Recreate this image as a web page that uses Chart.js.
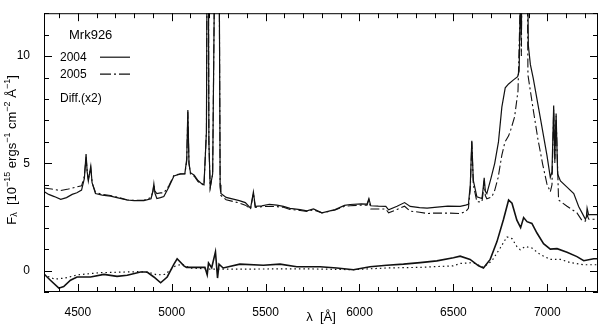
<!DOCTYPE html>
<html lang="en">
<head>
<meta charset="UTF-8">
<title>Mrk926</title>
<style>
  html, body { margin: 0; padding: 0; background: #fff; }
  canvas { display: block; }
</style>
</head>
<body>
<canvas id="spec" width="600" height="325"></canvas>
<script src="https://cdn.jsdelivr.net/npm/chart.js"></script>
<script>
// wavelength (A) and flux (1e-15)
const wave2004 = [4320, 4345, 4375, 4409, 4440, 4470, 4495, 4520, 4535, 4544, 4550, 4556, 4562, 4569, 4576, 4594,
  4630, 4674, 4720, 4761, 4800, 4852, 4890, 4900, 4905, 4911, 4921, 4940, 4958, 4985, 5012, 5047, 5070, 5080,
  5086, 5092, 5100, 5120, 5140, 5155, 5172, 5185, 5192, 5198, 5205, 5218, 5235, 5242, 5250, 5258, 5262, 5290,
  5360, 5392, 5420, 5435, 5445, 5480, 5520, 5560, 5595, 5630, 5684, 5720, 5755, 5800, 5870, 5920, 5950, 6010,
  6040, 6050, 6060, 6100, 6140, 6155, 6200, 6240, 6270, 6320, 6360, 6400, 6470, 6536, 6565, 6580, 6590, 6598,
  6606, 6625, 6652, 6658, 6664, 6670, 6678, 6700, 6720, 6740, 6758, 6776, 6794, 6820, 6842, 6850, 6856, 6862,
  6868, 6874, 6880, 6886, 6892, 6899, 6910, 6925, 6962, 6998, 7016, 7025, 7034, 7040, 7047, 7055, 7070, 7105,
  7141, 7167, 7185, 7203, 7208, 7212, 7220, 7229, 7265];
const flux2004 = [3.68, 3.55, 3.45, 3.32, 3.40, 3.55, 3.63, 3.75, 4.3, 5.43, 4.6, 4.18, 4.5, 4.86, 4.1, 3.59,
  3.52, 3.47, 3.38, 3.29, 3.26, 3.26, 3.35, 3.7, 4.04, 3.6, 3.36, 3.40, 3.45, 3.9, 4.41, 4.51, 4.52, 5.2,
  7.49, 5.0, 4.56, 4.45, 4.2, 4.08, 4.0, 6.5, 25, 6.0, 3.89, 4.5, 20, 40, 20, 4.0, 3.59, 3.41,
  3.26, 3.17, 2.91, 3.66, 2.99, 3.02, 3.09, 3.05, 2.99, 2.90, 2.84, 2.78, 2.87, 2.69, 2.84, 3.04, 3.08, 3.11,
  3.10, 3.36, 3.02, 3.0, 2.99, 2.83, 3.0, 3.17, 2.99, 2.93, 2.91, 2.95, 3.0, 2.99, 3.05, 3.09, 4.0, 6.05,
  4.2, 3.44, 3.36, 3.8, 4.33, 3.7, 3.59, 4.3, 5.0, 6.0, 7.62, 8.52, 8.70, 8.89, 9.04, 9.3, 12.5, 11,
  18, 13, 20, 14, 17, 10.5, 9.6, 8.97, 7.17, 5.38, 4.35, 4.6, 7.7, 5.2, 7.32, 4.5, 4.18, 3.89,
  3.59, 2.99, 2.69, 2.39, 2.5, 2.91, 2.6, 2.61, 2.61];

const wave2005 = [4320, 4360, 4409, 4450, 4495, 4520, 4535, 4544, 4550, 4556, 4562, 4569, 4576, 4594, 4630, 4674,
  4720, 4761, 4800, 4852, 4890, 4900, 4905, 4911, 4921, 4940, 4958, 4985, 5012, 5047, 5070, 5080, 5086, 5092,
  5100, 5120, 5140, 5155, 5172, 5185, 5192, 5198, 5205, 5218, 5235, 5242, 5250, 5258, 5262, 5290, 5360, 5392,
  5420, 5435, 5445, 5480, 5520, 5560, 5595, 5630, 5684, 5720, 5755, 5800, 5870, 5920, 5950, 6010, 6040, 6050,
  6060, 6100, 6140, 6155, 6200, 6240, 6270, 6320, 6360, 6400, 6470, 6536, 6565, 6580, 6590, 6598, 6606, 6625,
  6652, 6658, 6664, 6670, 6678, 6705, 6720, 6738, 6758, 6774, 6794, 6806, 6826, 6844, 6856, 6862, 6868, 6874,
  6880, 6886, 6892, 6897, 6923, 6950, 6976, 6998, 7016, 7025, 7034, 7040, 7047, 7060, 7105, 7158, 7185, 7203,
  7208, 7212, 7220, 7229, 7265];
const flux2005 = [3.85, 3.80, 3.73, 3.80, 3.90, 3.95, 4.4, 5.3, 4.6, 4.25, 4.5, 4.8, 4.1, 3.65, 3.55, 3.50,
  3.40, 3.30, 3.27, 3.28, 3.40, 3.7, 4.0, 3.7, 3.59, 3.62, 3.62, 3.95, 4.45, 4.5, 4.5, 5.1, 7.4, 5.0,
  4.5, 4.4, 4.15, 4.05, 3.98, 6.5, 25, 6.0, 3.85, 4.5, 20, 40, 20, 3.9, 3.5, 3.3, 3.15, 3.05,
  2.88, 3.6, 2.95, 2.98, 3.0, 2.98, 2.95, 2.85, 2.80, 2.76, 2.83, 2.69, 2.82, 3.0, 3.02, 3.05, 3.05, 3.3,
  2.87, 2.87, 2.87, 2.69, 2.85, 3.0, 2.77, 2.72, 2.66, 2.68, 2.68, 2.66, 2.75, 2.9, 3.8, 6.0, 4.0, 3.21,
  3.20, 3.6, 4.2, 3.5, 3.35, 3.44, 3.74, 4.33, 5.38, 5.98, 6.28, 6.58, 7.17, 8.37, 12.5, 10, 18, 13,
  20, 13, 16, 9.12, 7.62, 6.13, 4.93, 4.04, 3.67, 4.0, 7.5, 5.0, 7.2, 3.29, 3.0, 2.69, 2.33, 2.30,
  2.40, 2.62, 2.40, 2.39, 2.39];

const waveDiff = [4319, 4354, 4399, 4425, 4461, 4496, 4568, 4639, 4709, 4763, 4834, 4869, 4905, 4941, 4976, 5012,
  5029, 5065, 5079, 5150, 5177, 5189, 5196, 5213, 5233, 5244, 5252, 5274, 5363, 5488, 5577, 5666, 5790, 5879,
  5968, 6056, 6145, 6234, 6323, 6412, 6500, 6536, 6589, 6634, 6660, 6696, 6732, 6767, 6794, 6812, 6838, 6858,
  6874, 6892, 6918, 6945, 6980, 7016, 7052, 7105, 7158, 7194, 7247, 7272];
const fluxDiff = [-0.15, -0.45, -0.82, -0.75, -0.45, -0.30, -0.30, -0.18, -0.27, -0.22, -0.07, -0.07, -0.30, -0.57, -0.30, 0.30,
  0.55, 0.22, 0.15, 0.15, 0.15, -0.2, 0.35, 0.13, 0.87, -0.35, 0.3, 0.12, 0.30, 0.25, 0.30, 0.18, 0.18, 0.12,
  0.04, 0.18, 0.25, 0.30, 0.37, 0.45, 0.60, 0.67, 0.52, 0.22, 0.12, 0.52, 1.35, 2.39, 3.29, 3.14, 2.35, 2.0,
  2.47, 2.28, 2.2, 1.75, 1.25, 1.0, 1.02, 0.85, 0.65, 0.46, 0.55, 0.55];

const waveDot = [4319, 4377, 4431, 4500, 4617, 4830, 4884, 4921, 4964, 5017, 5054, 5097, 5204, 5417, 5683, 5790,
  5966, 6142, 6323, 6499, 6536, 6605, 6659, 6705, 6749, 6785, 6812, 6838, 6856, 6883, 6918, 6962, 7016, 7070,
  7123, 7192, 7272];
const fluxDot = [-0.2, -0.4, -0.35, -0.2, -0.1, -0.05, -0.1, -0.2, -0.18, 0.2, 0.3, 0.12, 0.07, 0.07, 0.08, 0.07,
  0.04, 0.12, 0.15, 0.22, 0.33, 0.37, 0.15, 0.45, 1.05, 1.57, 1.49, 1.12, 0.97, 1.12, 1.05, 0.75, 0.52, 0.52,
  0.37, 0.27, 0.27];

const xMajor = [4500, 5000, 5500, 6000, 6500, 7000];
const yMajor = [0, 5, 10];
const legendTitle = 'Mrk926';
const legendNames = ['2004', '2005', 'Diff.(x2)'];

const xTicks = [];
for (let v = 4400; v <= 7200; v += 100) xTicks.push(v);
const yTicks = [];
for (let v = -1; v <= 12; v += 1) yTicks.push(v);

const pairs = (xs, ys) => xs.map((x, i) => ({ x: x, y: ys[i] }));

const INK = '#111';
const FONT = '"Liberation Sans", Arial, sans-serif';

// frame with inward ticks on all four sides
const frameTicks = {
  id: 'frameTicks',
  afterDraw(chart) {
    const { ctx, chartArea: a, scales: { x, y } } = chart;
    ctx.save();
    ctx.strokeStyle = '#000';
    ctx.lineWidth = 1;
    ctx.strokeRect(a.left + 0.5, a.top + 0.5, a.right - a.left - 1, a.bottom - a.top - 1);
    ctx.beginPath();
    x.ticks.forEach(t => {
      const px = Math.round(x.getPixelForValue(t.value)) + 0.5;
      const len = xMajor.includes(t.value) ? 8 : 5;
      ctx.moveTo(px, a.bottom); ctx.lineTo(px, a.bottom - len);
      ctx.moveTo(px, a.top); ctx.lineTo(px, a.top + len);
    });
    y.ticks.forEach(t => {
      const py = Math.round(y.getPixelForValue(t.value)) + 0.5;
      const len = yMajor.includes(t.value) ? 8 : 5;
      ctx.moveTo(a.left, py); ctx.lineTo(a.left + len, py);
      ctx.moveTo(a.right, py); ctx.lineTo(a.right - len, py);
    });
    ctx.stroke();
    ctx.restore();
  }
};

// legend block and axis titles
const labels = {
  id: 'labels',
  afterDraw(chart) {
    const { ctx, chartArea: a } = chart;
    ctx.save();
    ctx.fillStyle = '#000';
    ctx.textBaseline = 'middle';
    ctx.font = '13px ' + FONT;
    ctx.fillText(legendTitle, a.left + 25, a.top + 22);
    ctx.font = '12px ' + FONT;
    const rows = [a.top + 44, a.top + 61, a.top + 85];
    legendNames.forEach((n, i) => ctx.fillText(n, a.left + 16, rows[i]));
    ctx.strokeStyle = INK;
    ctx.lineWidth = 1.2;
    ctx.beginPath(); ctx.moveTo(a.left + 56, rows[0]); ctx.lineTo(a.left + 86, rows[0]); ctx.stroke();
    ctx.setLineDash([11, 3, 2, 3]);
    ctx.beginPath(); ctx.moveTo(a.left + 56, rows[1]); ctx.lineTo(a.left + 88, rows[1]); ctx.stroke();
    ctx.setLineDash([]);

    // x title
    ctx.font = '13px ' + FONT;
    ctx.textAlign = 'center';
    ctx.fillText('\u03bb  [\u00c5]', (a.left + a.right) / 2, 317);

    // y title with sub/superscripts
    const parts = [
      ['F', 0], ['\u03bb', 1], ['  [10', 0], ['\u221215', -1], [' ergs', 0], ['\u22121', -1],
      [' cm', 0], ['\u22122', -1], [' \u00c5', 0], ['\u22121', -1], [']', 0]
    ];
    const big = '13px ' + FONT, small = '9px ' + FONT;
    let total = 0;
    parts.forEach(p => { ctx.font = p[1] ? small : big; total += ctx.measureText(p[0]).width; });
    ctx.translate(12, 150);
    ctx.rotate(-Math.PI / 2);
    ctx.textAlign = 'left';
    let cx = -total / 2;
    parts.forEach(p => {
      ctx.font = p[1] ? small : big;
      const dy = p[1] === 1 ? 3 : (p[1] === -1 ? -4 : 0);
      ctx.fillText(p[0], cx, dy);
      cx += ctx.measureText(p[0]).width;
    });
    ctx.restore();
  }
};

new Chart(document.getElementById('spec').getContext('2d'), {
  type: 'line',
  data: {
    datasets: [
      { label: '2004', data: pairs(wave2004, flux2004), borderColor: INK, borderWidth: 1.2 },
      { label: '2005', data: pairs(wave2005, flux2005), borderColor: INK, borderWidth: 1.1, borderDash: [9, 3, 2, 3] },
      { label: 'Diff.(x2)', data: pairs(waveDiff, fluxDiff), borderColor: INK, borderWidth: 1.6 },
      { label: 'dotted', data: pairs(waveDot, fluxDot), borderColor: INK, borderWidth: 1.2, borderDash: [1.5, 3] }
    ]
  },
  options: {
    responsive: false,
    animation: false,
    layout: { padding: { top: 3, right: 2, left: 0, bottom: 0 } },
    elements: { point: { radius: 0 }, line: { tension: 0, fill: false } },
    plugins: { legend: { display: false }, tooltip: { enabled: false } },
    scales: {
      x: {
        type: 'linear', min: 4320, max: 7270,
        afterBuildTicks: s => { s.ticks = xTicks.map(v => ({ value: v })); },
        afterFit: s => { s.height = 33; },
        grid: { display: false }, border: { display: false },
        ticks: {
          autoSkip: false, maxRotation: 0, padding: 5, color: '#000',
          font: { family: FONT, size: 12 },
          callback: v => xMajor.includes(v) ? String(v) : ''
        }
      },
      y: {
        min: -1, max: 12,
        afterBuildTicks: s => { s.ticks = yTicks.map(v => ({ value: v })); },
        afterFit: s => { s.width = 44; },
        grid: { display: false }, border: { display: false },
        ticks: {
          autoSkip: false, padding: 6, color: '#000',
          font: { family: FONT, size: 12 },
          callback: v => yMajor.includes(v) ? String(v) : ''
        }
      }
    }
  },
  plugins: [frameTicks, labels]
});
</script>
</body>
</html>
